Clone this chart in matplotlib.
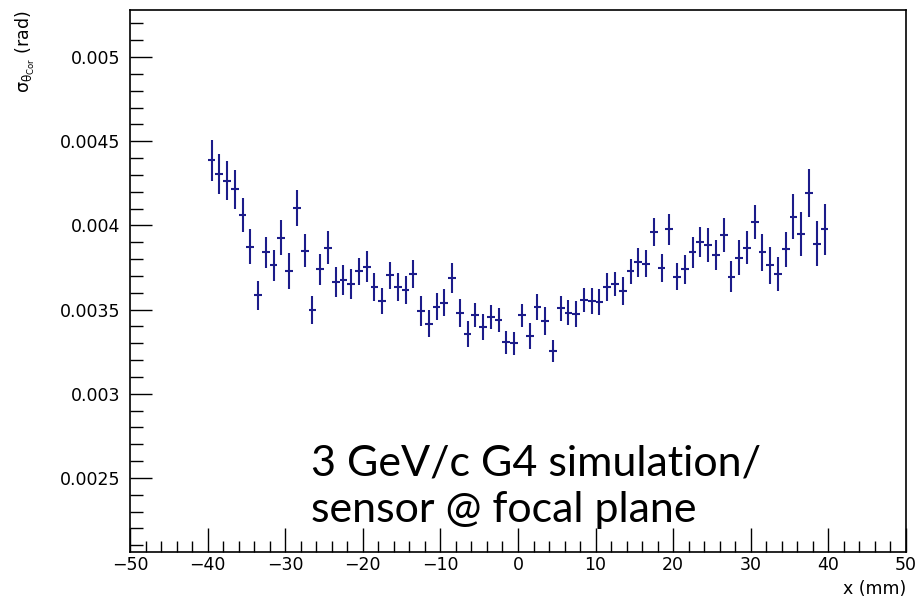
import numpy as np
import matplotlib
matplotlib.use("Agg")
import matplotlib.pyplot as plt
from matplotlib.ticker import MultipleLocator

# bin centres (mm), 1 mm bins from -40 to 40
x_pos = np.arange(-39.5, 40.0, 1.0)
x_halfwidth = 0.5

# angular resolution per bin (rad)
sigma = [
    0.004386, 0.004305, 0.004267, 0.004215, 0.004062, 0.003874, 0.003585, 0.003840,
    0.003763, 0.003928, 0.003729, 0.004106, 0.003850, 0.003499, 0.003739, 0.003868,
    0.003662, 0.003676, 0.003654, 0.003729, 0.003755, 0.003636, 0.003551, 0.003703,
    0.003636, 0.003616, 0.003711, 0.003491, 0.003416, 0.003517, 0.003541, 0.003688,
    0.003481, 0.003356, 0.003466, 0.003398, 0.003456, 0.003438, 0.003305, 0.003299,
    0.003466, 0.003344, 0.003517, 0.003432, 0.003253, 0.003507, 0.003481, 0.003475,
    0.003557, 0.003551, 0.003543, 0.003636, 0.003652, 0.003612, 0.003729, 0.003781,
    0.003773, 0.003960, 0.003749, 0.003977, 0.003696, 0.003739, 0.003840, 0.003900,
    0.003884, 0.003824, 0.003943, 0.003696, 0.003808, 0.003868, 0.004019, 0.003840,
    0.003763, 0.003711, 0.003858, 0.004052, 0.003949, 0.004192, 0.003892, 0.003977,
]

sigma_err = [
    0.000119, 0.000118, 0.000114, 0.000115, 0.000100, 0.000106, 0.000085, 0.000093,
    0.000094, 0.000103, 0.000106, 0.000107, 0.000098, 0.000084, 0.000094, 0.000098,
    0.000090, 0.000089, 0.000090, 0.000080, 0.000092, 0.000084, 0.000076, 0.000079,
    0.000084, 0.000084, 0.000083, 0.000087, 0.000079, 0.000081, 0.000079, 0.000089,
    0.000084, 0.000079, 0.000072, 0.000076, 0.000074, 0.000069, 0.000069, 0.000070,
    0.000069, 0.000077, 0.000076, 0.000084, 0.000067, 0.000076, 0.000074, 0.000077,
    0.000074, 0.000077, 0.000078, 0.000082, 0.000074, 0.000082, 0.000074, 0.000085,
    0.000081, 0.000083, 0.000084, 0.000091, 0.000079, 0.000087, 0.000091, 0.000088,
    0.000101, 0.000089, 0.000101, 0.000092, 0.000104, 0.000097, 0.000101, 0.000111,
    0.000111, 0.000103, 0.000106, 0.000133, 0.000132, 0.000144, 0.000132, 0.000152,
]

y_ticks = [0.0025, 0.003, 0.0035, 0.004, 0.0045, 0.005]
y_tick_labels = ["0.0025", "0.003", "0.0035", "0.004", "0.0045", "0.005"]
x_ticks = [-50, -40, -30, -20, -10, 0, 10, 20, 30, 40, 50]

# upright greek letters in the axis title
plt.rcParams["mathtext.default"] = "regular"

fig = plt.figure(figsize=(9.21, 5.99), dpi=100)
ax = fig.add_axes([0.1412, 0.0785, 0.8425, 0.9048])

ax.errorbar(x_pos, sigma, xerr=x_halfwidth, yerr=sigma_err, fmt="none",
            ecolor="#1c1c8a", elinewidth=1.5, capsize=0)

ax.set_xlim(-50, 50)
ax.set_ylim(0.00206, 0.00528)

ax.set_xticks(x_ticks)
ax.set_xticklabels([str(t).replace("-", "\u2212") for t in x_ticks])
ax.xaxis.set_minor_locator(MultipleLocator(2))
ax.set_yticks(y_ticks)
ax.set_yticklabels(y_tick_labels)
ax.yaxis.set_minor_locator(MultipleLocator(0.0001))

ax.tick_params(axis="both", which="both", direction="in", width=1.0,
               labelsize=12.5, top=False, right=False)
ax.tick_params(axis="x", which="major", length=17, pad=3)
ax.tick_params(axis="x", which="minor", length=8)
ax.tick_params(axis="y", which="major", length=16, pad=7)
ax.tick_params(axis="y", which="minor", length=9)
for sp in ax.spines.values():
    sp.set_linewidth(1.2)

ax.set_xlabel("x (mm)", loc="right", fontsize=12.5, labelpad=4)
ax.set_ylabel(r"$\sigma_{\theta_{Cor}}$ (rad)", loc="top", fontsize=12.5)
ax.yaxis.set_label_coords(-0.12, 1.0)

fig.text(311 / 921, 1 - 476 / 599, "3 GeV/c G4 simulation/",
         fontsize=31, family="Lato", va="baseline", ha="left", color="black")
fig.text(311 / 921, 1 - 522 / 599, "sensor @ focal plane",
         fontsize=31, family="Lato", va="baseline", ha="left", color="black")

fig.savefig("out.png", dpi=100)
